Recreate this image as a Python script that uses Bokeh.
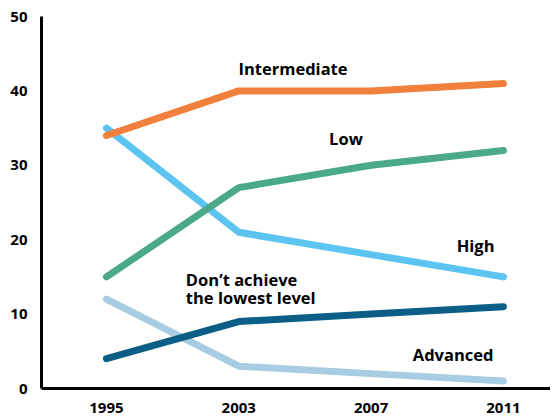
from bokeh.plotting import figure
from bokeh.models import Range1d, FixedTicker, Label
from bokeh.embed import file_html
from bokeh.resources import INLINE

years = ["1995", "2003", "2007", "2011"]
high = [35, 21, 18, 15]
advanced = [12, 3, 2, 1]
low = [15, 27, 30, 32]
dont_achieve = [4, 9, 10, 11]
intermediate = [34, 40, 40, 41]
y_ticks = [0, 10, 20, 30, 40, 50]

FONT = "Open Sans"
xs = list(range(len(years)))

p = figure(width=550, height=417, output_backend="svg", toolbar_location=None,
           x_range=Range1d(-0.491, 3.356), y_range=Range1d(0, 50),
           min_border_left=41, min_border_right=0, min_border_top=16, min_border_bottom=29)
p.outline_line_color = None
p.xgrid.visible = False
p.ygrid.visible = False
p.background_fill_color = "white"
p.border_fill_color = "white"

series = [
    (high, "#5BC4F1"),
    (advanced, "#A8CCE1"),
    (low, "#4BA98B"),
    (dont_achieve, "#0B5F86"),
    (intermediate, "#F0803C"),
]
for vals, col in series:
    p.line(xs, vals, line_color=col, line_width=7, line_cap="round", line_join="round")

for ax in (p.xaxis, p.yaxis):
    ax.axis_line_color = "black"
    ax.axis_line_width = 3
    ax.major_tick_line_color = None
    ax.minor_tick_line_color = None
    ax.major_label_text_font = FONT
    ax.major_label_text_font_style = "bold"
    ax.major_label_text_font_size = "15px"
    ax.major_label_text_color = "black"

p.xaxis.ticker = FixedTicker(ticks=xs)
p.xaxis.major_label_overrides = {i: y for i, y in enumerate(years)}
p.xaxis.major_label_standoff = 8
p.yaxis.ticker = FixedTicker(ticks=y_ticks)
p.yaxis.major_label_standoff = 8

def lab(x, y, t, align="center"):
    p.add_layout(Label(x=x, y=y, text=t, text_font=FONT, text_font_style="bold",
                       text_font_size="16.5px", text_align=align, text_baseline="middle",
                       text_color="black"))

lab(1.41, 43, "Intermediate")
lab(1.81, 33.6, "Low")
lab(2.79, 19.2, "High")
lab(0.6, 14.6, "Don\u2019t achieve", "left")
lab(0.6, 12.2, "the lowest level", "left")
lab(2.62, 4.6, "Advanced")

open("out.html", "w").write(file_html(p, INLINE))
